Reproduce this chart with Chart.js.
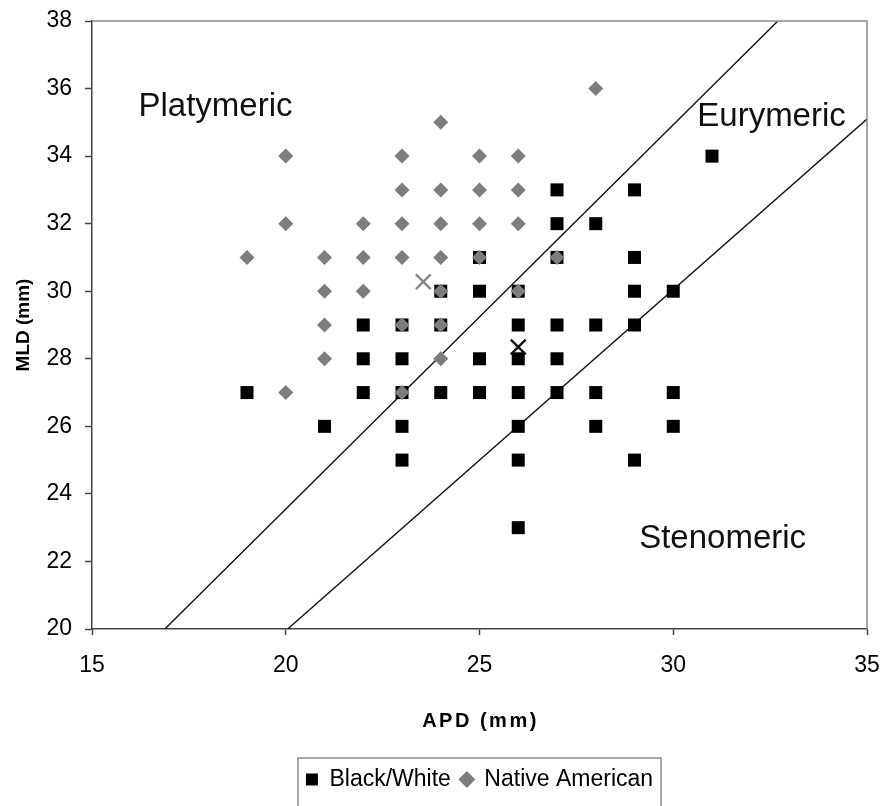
<!DOCTYPE html>
<html>
<head>
<meta charset="utf-8">
<script src="https://cdn.jsdelivr.net/npm/chart.js"></script>
<style>
  body { margin: 0; background: #fff; }
  canvas { display: block; }
</style>
</head>
<body>
<canvas id="chart" width="883" height="806"></canvas>
<script>
// Black/White femora (APD, MLD in mm)
const bwApd = [19, 21, 22, 22, 22, 23, 23, 23, 23, 23, 24, 24, 24, 25, 25, 25, 25,
  26, 26, 26, 26, 26, 26, 26, 27, 27, 27, 27, 27, 27, 28, 28, 28, 28,
  29, 29, 29, 29, 29, 30, 30, 30, 31];
const bwMld = [27, 26, 29, 28, 27, 29, 28, 27, 26, 25, 30, 29, 27, 31, 30, 28, 27,
  30, 29, 28, 27, 26, 25, 23, 33, 32, 31, 29, 28, 27, 32, 29, 27, 26,
  33, 31, 30, 29, 25, 30, 27, 26, 34];

// Native American femora
const naApd = [19, 20, 20, 20, 21, 21, 21, 21, 22, 22, 22, 23, 23, 23, 23, 23, 23,
  24, 24, 24, 24, 24, 24, 24, 25, 25, 25, 25, 26, 26, 26, 26, 27, 28];
const naMld = [31, 34, 32, 27, 31, 30, 29, 28, 32, 31, 30, 34, 33, 32, 31, 29, 27,
  35, 33, 32, 31, 30, 29, 28, 34, 33, 32, 31, 34, 33, 32, 30, 31, 36];

// group means (the X marks): Black/White, Native American
const meanApd = [26.0, 23.55];
const meanMld = [28.35, 30.28];

// boundary lines (index 85 and 100)
const line1Apd = [16.88, 32.7];
const line1Mld = [20, 38];
const line2Apd = [20.05, 35];
const line2Mld = [20, 35.1];

const regionNames = ['Platymeric', 'Eurymeric', 'Stenomeric'];
const regionApd = [16.2, 30.62, 29.12];
const regionMld = [35.2, 34.9, 22.4];

const xTitle = 'APD (mm)';

const toPts = (xs, ys) => xs.map((x, i) => ({x: x, y: ys[i]}));

Chart.defaults.font.family = '"Liberation Sans", Arial, sans-serif';
Chart.defaults.color = '#000';

const extras = {
  id: 'extras',
  afterDatasetsDraw(chart) {
    const {ctx, chartArea: a, scales: {x, y}} = chart;
    ctx.save();
    ctx.strokeStyle = '#8c8c8c';
    ctx.lineWidth = 1.5;
    ctx.beginPath();
    ctx.moveTo(a.left, a.top);
    ctx.lineTo(a.right, a.top);
    ctx.lineTo(a.right, a.bottom);
    ctx.stroke();

    ctx.fillStyle = '#111';
    ctx.font = '33px "Liberation Sans", Arial, sans-serif';
    ctx.textAlign = 'left';
    ctx.textBaseline = 'alphabetic';
    regionNames.forEach((t, i) => {
      ctx.fillText(t, x.getPixelForValue(regionApd[i]), y.getPixelForValue(regionMld[i]));
    });
    ctx.restore();
  },
  afterDraw(chart) {
    const ctx = chart.ctx;
    const a = chart.chartArea;
    const xs = chart.scales.x;
    // spaced-out x title (Chart.js reserves the room, drawn here)
    ctx.save();
    ctx.font = 'bold 20px "Liberation Sans", Arial, sans-serif';
    ctx.letterSpacing = '2.5px';
    ctx.fillStyle = '#000';
    ctx.textAlign = 'center';
    ctx.textBaseline = 'middle';
    ctx.fillText(xTitle, (a.left + a.right) / 2 + 1, xs.bottom - 25 - 12);
    ctx.restore();

    const lg = chart.legend;
    if (!lg || !lg.legendHitBoxes.length) return;
    const hb = lg.legendHitBoxes;
    const l = Math.min(...hb.map(b => b.left)) - 8;
    const r = Math.max(...hb.map(b => b.left + b.width)) + 8;
    ctx.save();
    ctx.strokeStyle = '#8c8c8c';
    ctx.lineWidth = 1.5;
    ctx.strokeRect(l, lg.top, r - l, chart.height);
    ctx.restore();
  }
};

new Chart(document.getElementById('chart'), {
  type: 'scatter',
  data: {
    datasets: [
      {
        label: 'Black/White',
        data: toPts(bwApd, bwMld),
        pointStyle: 'rect',
        pointRadius: 9.2,
        backgroundColor: '#000',
        borderColor: '#000',
        borderWidth: 0,
        order: 2
      },
      {
        label: 'Native American',
        data: toPts(naApd, naMld),
        pointStyle: 'rectRot',
        pointRadius: 7.5,
        backgroundColor: '#7d7d7d',
        borderColor: '#7d7d7d',
        borderWidth: 0,
        order: 1
      },
      {
        label: 'means',
        data: toPts(meanApd, meanMld),
        pointStyle: 'crossRot',
        pointRadius: 10.5,
        borderColor: ['#111', '#888'],
        borderWidth: 2.4,
        order: 0
      },
      {
        label: 'line85',
        data: toPts(line1Apd, line1Mld),
        showLine: true,
        pointRadius: 0,
        borderColor: '#111',
        borderWidth: 1.4,
        order: 3
      },
      {
        label: 'line100',
        data: toPts(line2Apd, line2Mld),
        showLine: true,
        pointRadius: 0,
        borderColor: '#111',
        borderWidth: 1.4,
        order: 3
      }
    ]
  },
  options: {
    responsive: false,
    animation: false,
    events: [],
    layout: { padding: { top: 21, right: 16, bottom: 5, left: 0 } },
    plugins: {
      tooltip: { enabled: false },
      legend: {
        position: 'bottom',
        fullSize: false,
        labels: {
          usePointStyle: true,
          boxWidth: 12,
          boxHeight: 12,
          padding: 10,
          font: { size: 23 },
          color: '#000',
          filter: item => item.datasetIndex < 2,
          sort: (a, b) => a.datasetIndex - b.datasetIndex
        }
      }
    },
    scales: {
      x: {
        type: 'linear',
        min: 15,
        max: 35,
        afterFit: s => { s.height = 129; s.paddingLeft = 0; s.paddingRight = 0; },
        ticks: { stepSize: 5, padding: 17, font: { size: 23 }, color: '#000' },
        grid: { drawOnChartArea: false, drawTicks: true, tickLength: 6, color: '#444', tickWidth: 1.5 },
        border: { display: true, color: '#444', width: 1.5 },
        title: {
          display: true,
          text: xTitle,
          font: { size: 20, weight: 'bold' },
          color: 'rgba(0,0,0,0)',
          padding: { top: 0, bottom: 25 }
        }
      },
      y: {
        type: 'linear',
        min: 20,
        max: 38,
        afterFit: s => { s.width = 92; s.paddingTop = 0; s.paddingBottom = 0; },
        ticks: { stepSize: 2, padding: 13, font: { size: 23 }, color: '#000' },
        grid: { drawOnChartArea: false, drawTicks: true, tickLength: 7, color: '#444', tickWidth: 1.5 },
        border: { display: true, color: '#444', width: 1.5 },
        title: {
          display: true,
          text: 'MLD (mm)',
          font: { size: 19, weight: 'bold' },
          color: '#000',
          padding: { top: 12, bottom: 0 }
        }
      }
    }
  },
  plugins: [extras]
});
</script>
</body>
</html>
